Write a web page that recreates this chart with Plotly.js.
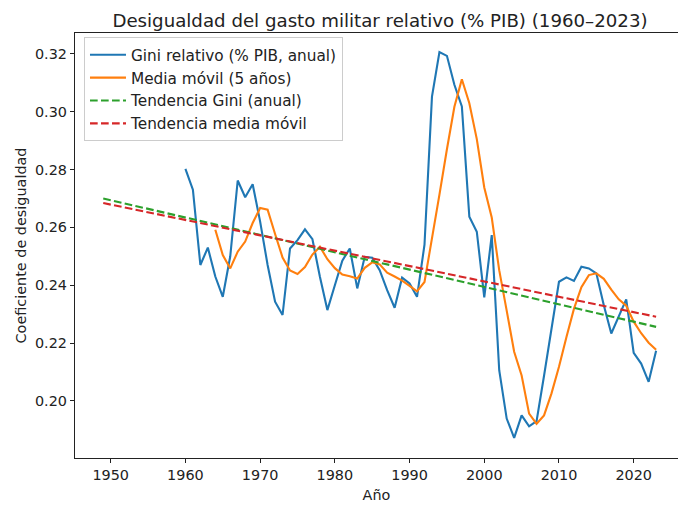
<!DOCTYPE html>
<html>
<head>
<meta charset="utf-8">
<script src="https://cdn.plot.ly/plotly-3.0.1.min.js"></script>
<style>html,body{margin:0;padding:0;background:#fff;} #chart{width:678px;height:505px;}</style>
</head>
<body>
<div id="chart"></div>
<script>
// Years of the annual series
const years = [1960,1961,1962,1963,1964,1965,1966,1967,1968,1969,
               1970,1971,1972,1973,1974,1975,1976,1977,1978,1979,
               1980,1981,1982,1983,1984,1985,1986,1987,1988,1989,
               1990,1991,1992,1993,1994,1995,1996,1997,1998,1999,
               2000,2001,2002,2003,2004,2005,2006,2007,2008,2009,
               2010,2011,2012,2013,2014,2015,2016,2017,2018,2019,
               2020,2021,2022,2023];
// Gini relativo (% PIB, anual)
const gini = [0.2802,0.2730,0.2470,0.2530,0.2430,0.2360,0.2500,0.2762,0.2704,0.2749,
              0.2620,0.2470,0.2343,0.2297,0.2527,0.2556,0.2593,0.2559,0.2429,0.2314,
              0.2400,0.2485,0.2527,0.2389,0.2498,0.2495,0.2452,0.2383,0.2322,0.2426,
              0.2406,0.2360,0.2540,0.3052,0.3206,0.3193,0.3093,0.3018,0.2637,0.2585,
              0.2358,0.2573,0.2106,0.1939,0.1872,0.1950,0.1912,0.1930,0.2087,0.2249,
              0.2412,0.2427,0.2415,0.2464,0.2458,0.2441,0.2331,0.2233,0.2291,0.2351,
              0.2166,0.2129,0.2066,0.2173];
// Media móvil (5 años), starts 1964
const maYears = [1964,1965,1966,1967,1968,1969,
                 1970,1971,1972,1973,1974,1975,1976,1977,1978,1979,
                 1980,1981,1982,1983,1984,1985,1986,1987,1988,1989,
                 1990,1991,1992,1993,1994,1995,1996,1997,1998,1999,
                 2000,2001,2002,2003,2004,2005,2006,2007,2008,2009,
                 2010,2011,2012,2013,2014,2015,2016,2017,2018,2019,
                 2020,2021,2022,2023];
const mediaMovil = [0.2592,0.2504,0.2458,0.2516,0.2551,0.2615,
                    0.2667,0.2661,0.2577,0.2496,0.2451,0.2439,0.2463,0.2506,0.2533,0.2490,
                    0.2459,0.2437,0.2431,0.2423,0.2460,0.2479,0.2472,0.2443,0.2430,0.2416,
                    0.2398,0.2379,0.2411,0.2557,0.2713,0.2870,0.3017,0.3112,0.3029,0.2905,
                    0.2738,0.2634,0.2452,0.2312,0.2170,0.2088,0.1956,0.1921,0.1950,0.2026,
                    0.2118,0.2221,0.2318,0.2393,0.2435,0.2441,0.2422,0.2385,0.2351,0.2329,
                    0.2274,0.2234,0.2201,0.2177];
// Trend lines (endpoints)
const trendYears = [1949, 2023];
const trendGini = [0.2700, 0.2256];
const trendMedia = [0.2684, 0.2291];

const LW = 2.1;
const DASH = '7.7px,3.3px';
const traces = [
  {x: years, y: gini, type: 'scatter', mode: 'lines', name: 'Gini relativo (% PIB, anual)',
   line: {color: '#1f77b4', width: LW}, legendgroup: 'a'},
  {x: maYears, y: mediaMovil, type: 'scatter', mode: 'lines', name: 'Media móvil (5 años)',
   line: {color: '#ff7f0e', width: LW}, legendgroup: 'b'},
  {x: trendYears, y: trendGini, type: 'scatter', mode: 'lines', name: 'Tendencia Gini (anual)',
   line: {color: '#2ca02c', width: LW, dash: DASH}, legendgroup: 'c'},
  {x: trendYears, y: trendMedia, type: 'scatter', mode: 'lines', name: 'Tendencia media móvil',
   line: {color: '#d62728', width: LW, dash: DASH}, legendgroup: 'd'}
];

const font = 'DejaVu Sans, sans-serif';
const layout = {
  width: 678, height: 505,
  margin: {l: 75, r: 0, t: 33, b: 47},
  paper_bgcolor: '#ffffff', plot_bgcolor: '#ffffff',
  font: {family: font, size: 14.4, color: '#222222'},
  title: {text: 'Desigualdad del gasto militar relativo (% PIB) (1960–2023)',
          font: {family: font, size: 18.2, color: '#222222'},
          xref: 'paper', x: 0.5058, xanchor: 'center',
          yref: 'container', y: 1 - 21/505, yanchor: 'middle'},
  xaxis: {
    range: [1945.22, 2025.93], tickvals: [1950,1960,1970,1980,1990,2000,2010,2020],
    ticks: 'outside', ticklen: 4, tickwidth: 1, tickcolor: '#222',
    showline: true, linecolor: '#222', linewidth: 1.1, mirror: true,
    showgrid: false, zeroline: false,
    tickfont: {family: font, size: 14.4, color: '#222'},
    title: {text: 'Año', font: {family: font, size: 14.4, color: '#222'}, standoff: 7}
  },
  yaxis: {
    range: [0.18026, 0.3272], tickvals: [0.20,0.22,0.24,0.26,0.28,0.30,0.32], tickformat: '.2f',
    ticks: 'outside', ticklen: 4, tickwidth: 1, tickcolor: '#222',
    showline: true, linecolor: '#222', linewidth: 1.1,
    showgrid: false, zeroline: false,
    tickfont: {family: font, size: 14.4, color: '#222'},
    title: {text: 'Coeficiente de desigualdad', font: {family: font, size: 14.4, color: '#222'}, standoff: 4}
  },
  showlegend: true,
  legend: {x: 0.0149, y: 0.99, xanchor: 'left', yanchor: 'top',
           bgcolor: 'rgba(255,255,255,0.8)', bordercolor: '#cccccc', borderwidth: 1,
           font: {family: font, size: 15.3, color: '#222'}, tracegroupgap: 2,
           itemwidth: 36, traceorder: 'normal'}
};
Plotly.newPlot('chart', traces, layout, {displayModeBar: false, staticPlot: true});
</script>
</body>
</html>
